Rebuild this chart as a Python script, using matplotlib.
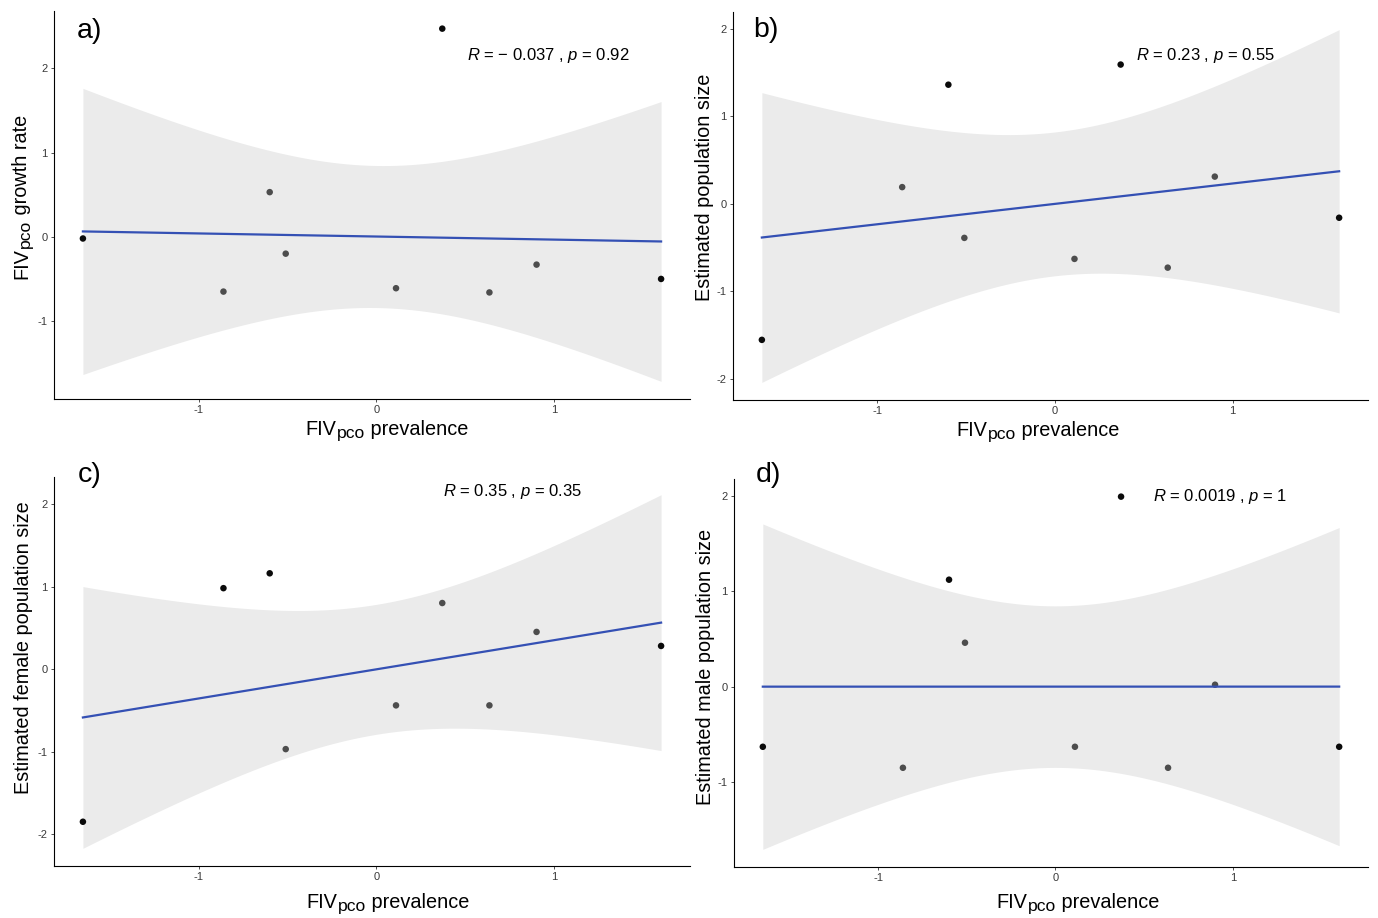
import numpy as np
import matplotlib
matplotlib.use('Agg')
import matplotlib.pyplot as plt

plt.rcParams['font.family'] = ['Liberation Sans', 'DejaVu Sans']
plt.rcParams['mathtext.fontset'] = 'custom'
plt.rcParams['mathtext.rm'] = 'Liberation Sans'
plt.rcParams['mathtext.it'] = 'Liberation Sans:italic'
plt.rcParams['axes.unicode_minus'] = False

# datos (valores estandarizados)
prevalence = [-1.65, -0.86, -0.60, -0.51, 0.11, 0.37, 0.635, 0.90, 1.60]
growth_rate = [-0.02, -0.65, 0.53, -0.20, -0.61, 2.47, -0.66, -0.33, -0.50]
pop_size = [-1.555, 0.19, 1.36, -0.39, -0.63, 1.59, -0.73, 0.31, -0.16]
female_size = [-1.85, 0.98, 1.16, -0.97, -0.44, 0.80, -0.44, 0.45, 0.28]
male_size = [-0.63, -0.85, 1.12, 0.46, -0.63, 1.99, -0.85, 0.02, -0.63]

panel_letters = ['a)', 'b)', 'c)', 'd)']
cor_labels = [r'$R$ = $-$ 0.037 , $p$ = 0.92', r'$R$ = 0.23 , $p$ = 0.55',
              r'$R$ = 0.35 , $p$ = 0.35', r'$R$ = 0.0019 , $p$ = 1']
y_titles = [' growth rate', 'Estimated population size',
            'Estimated female population size', 'Estimated male population size']
x_ticks = [-1, 0, 1]
y_ticks = [[-1, 0, 1, 2], [-2, -1, 0, 1, 2], [-2, -1, 0, 1, 2], [-1, 0, 1, 2]]

W, H = 1378, 918
fig = plt.figure(figsize=(W / 100, H / 100), dpi=100)
rend = fig.canvas.get_renderer()

# cajas de los paneles en pixeles: izq, der, arriba, abajo
boxes = [(54, 690, 11, 399), (733, 1368, 12, 400),
         (54, 690, 477, 866), (734, 1368, 479, 867)]
letter_pos = [(77, 38), (753, 37), (78, 482), (756, 482)]
cor_pos = [(467, 60), (1136, 60), (443, 496), (1153, 501)]
xlab_pos = [(387, 435), (1038, 436), (388, 908), (1078, 908)]
ylab_pos = [(27, 197), (710, 187), (29, 648), (711, 667)]

T_975 = 2.364624  # t de Student, 7 g.l.
LAB_FS = 14.3


def ftext(x, y, s, **kw):
    return fig.text(x / W, 1 - y / H, s, **kw)


def width(s, fs):
    t = fig.text(0, 0, s, fontsize=fs)
    w = t.get_window_extent(rend).width
    t.remove()
    return w


def fiv_label(x, y, rest, rot=0):
    # FIV con subindice pco, centrado en x (o y si esta rotado)
    parts = [('FIV', LAB_FS, 0), ('pco', LAB_FS * 0.88, 3), (rest, LAB_FS, 0)]
    ws = [width(s, fs) for s, fs, d in parts]
    pos = -sum(ws) / 2
    for (s, fs, d), w in zip(parts, ws):
        if rot == 0:
            ftext(x + pos, y + d, s, fontsize=fs, ha='left', va='baseline', color='black')
        else:
            ftext(x + d, y - pos, s, fontsize=fs, ha='left', va='baseline',
                  rotation=90, rotation_mode='anchor', color='black')
        pos += w


def plain_ylabel(x, y, s):
    w = width(s, LAB_FS)
    ftext(x, y + w / 2, s, fontsize=LAB_FS, ha='left', va='baseline',
          rotation=90, rotation_mode='anchor', color='black')


series = [growth_rate, pop_size, female_size, male_size]
for i, ys in enumerate(series):
    l, r, t, b = boxes[i]
    ax = fig.add_axes([l / W, 1 - b / H, (r - l) / W, (b - t) / H])
    x = np.array(prevalence)
    y = np.array(ys)
    n = len(x)

    b1, b0 = np.polyfit(x, y, 1)
    xs = np.linspace(x.min(), x.max(), 80)
    fit = b0 + b1 * xs
    res = y - (b0 + b1 * x)
    s = np.sqrt(np.sum(res ** 2) / (n - 2))
    se = s * np.sqrt(1 / n + (xs - x.mean()) ** 2 / np.sum((x - x.mean()) ** 2))
    lo = fit - T_975 * se
    hi = fit + T_975 * se

    ax.fill_between(xs, lo, hi, color='#EBEBEB', lw=0, zorder=1)
    inside = (x > xs.min()) & (x < xs.max()) & (y > np.interp(x, xs, lo)) & (y < np.interp(x, xs, hi))
    cols = np.where(inside, '#4D4D4D', '#0A0A0A')
    ax.scatter(x, y, s=22, c=cols, lw=0, zorder=2)
    ax.plot(xs, fit, color='#3450B4', lw=1.6, zorder=3)

    xr = x.max() - x.min()
    ax.set_xlim(x.min() - 0.05 * xr, x.max() + 0.05 * xr)
    ymin = min(y.min(), lo.min())
    ymax = max(y.max(), hi.max())
    yr = ymax - ymin
    ax.set_ylim(ymin - 0.05 * yr, ymax + 0.05 * yr)

    ax.set_xticks(x_ticks)
    ax.set_yticks(y_ticks[i])
    for sp in ['top', 'right']:
        ax.spines[sp].set_visible(False)
    for sp in ['left', 'bottom']:
        ax.spines[sp].set_color('black')
        ax.spines[sp].set_linewidth(0.8)
    ax.tick_params(length=2.5, width=0.6, color='#333333', labelcolor='#3A3A3A',
                   labelsize=8, pad=2)

    ftext(*letter_pos[i], panel_letters[i], fontsize=20.5, ha='left', va='baseline')
    ftext(*cor_pos[i], cor_labels[i], fontsize=12, ha='left', va='baseline')
    fiv_label(*xlab_pos[i], ' prevalence')
    if i == 0:
        fiv_label(*ylab_pos[i], y_titles[i], rot=90)
    else:
        plain_ylabel(*ylab_pos[i], y_titles[i])

fig.savefig('out.png', dpi=100)
